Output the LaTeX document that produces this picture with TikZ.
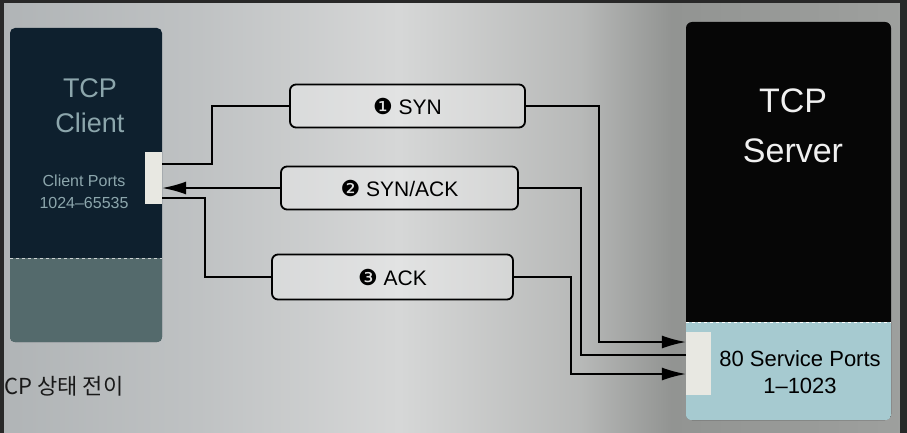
\documentclass[tikz,border=0pt]{standalone}
\usepackage{fontspec}
\setmainfont{Liberation Sans}
\newfontfamily\symfont{DejaVu Sans}
\newfontfamily\krfont{Noto Sans CJK KR}
\usetikzlibrary{arrows.meta, positioning, calc}
\definecolor{pgdark}{RGB}{40,40,40}
\definecolor{clnavy}{RGB}{14,32,46}
\definecolor{clgray}{RGB}{84,106,108}
\definecolor{cltext}{RGB}{140,166,172}
\definecolor{svblack}{RGB}{6,6,6}
\definecolor{svblue}{RGB}{166,202,208}
\definecolor{portwhite}{RGB}{232,232,226}
\definecolor{pgA}{RGB}{176,180,182}
\definecolor{pgB}{RGB}{214,215,215}
\definecolor{pgC}{RGB}{146,148,146}
\definecolor{pgD}{RGB}{158,160,158}
\pgfdeclarehorizontalshading{page}{100bp}{color(0bp)=(pgA); color(25bp)=(pgA); color(36bp)=(pgA!60!pgB); color(47bp)=(pgB); color(57bp)=(pgB!55!pgC); color(62bp)=(pgC); color(75bp)=(pgD); color(100bp)=(pgD)}

\begin{document}
\begin{tikzpicture}[x=1pt, y=-1pt,
    msg/.style={draw, line width=1.8pt, rounded corners=6pt, fill=white,
      fill opacity=0.3, text opacity=1, minimum height=43pt,
      font=\fontsize{21}{24}\selectfont},
    port/.style={fill=portwhite, inner sep=0pt},
    link/.style={line width=1.5pt},
    arrow/.style={link, -{Latex[length=24pt, width=13pt]}}
  ]
  % Page
  \shade[shading=page] (0,0) rectangle (907,433);
  \fill[pgdark] (0,0) rectangle (907,3);
  \fill[pgdark] (0,0) rectangle (4,433);
  \fill[pgdark] (900,0) rectangle (907,433);
  \useasboundingbox (0,0) rectangle (907,433);

  % Client
  \node[fill=clnavy, rounded corners=5pt, minimum width=152pt,
    minimum height=314pt, inner sep=0pt] (client) at (86,185) {};
  \begin{scope}
    \clip[rounded corners=5pt] (client.south west) rectangle (client.north east);
    \fill[clgray] (client.south west) rectangle (client.east |- 0,258);
  \end{scope}
  \draw[white!70!clgray, dashed, line width=0.8pt] (client.west |- 0,258) -- (client.east |- 0,258);
  \node[text=cltext, font=\fontsize{27}{35}\selectfont, align=center] (clientlabel) at (90,106) {TCP\\Client};
  \node[text=cltext, font=\fontsize{16}{22}\selectfont, align=center] (clientports) at (84,192) {Client Ports\\1024–65535};
  \node[port, minimum width=17pt, minimum height=52pt, anchor=east] (cport) at (client.east |- 0,178) {};

  % Server
  \node[fill=svblack, rounded corners=6pt, minimum width=205pt,
    minimum height=398pt, inner sep=0pt] (server) at (788.5,221) {};
  \begin{scope}
    \clip[rounded corners=6pt] (server.south west) rectangle (server.north east);
    \fill[svblue] (server.south west) rectangle (server.east |- 0,322);
  \end{scope}
  \draw[white, dashed, line width=0.8pt] (server.west |- 0,322) -- (server.east |- 0,322);
  \node[text=white!88!gray, font=\fontsize{34}{50}\selectfont, align=center] (serverlabel) at (793,126) {TCP\\Server};
  \node[font=\fontsize{22}{27}\selectfont, align=center] (serverports) at (800,372) {80 Service Ports\\1–1023};
  \node[port, minimum width=25pt, minimum height=63pt, anchor=west] (sport) at (server.west |- 0,363) {};

  % Messages
  \node[msg, minimum width=235pt] (syn) at (407.5,106) {{\symfont\fontsize{22}{24}\selectfont ❶} SYN};
  \node[msg, minimum width=237pt] (synack) at (399.5,188) {{\symfont\fontsize{22}{24}\selectfont ❷} SYN/ACK};
  \node[msg, minimum width=241pt, minimum height=45pt] (ack) at (392.5,277) {{\symfont\fontsize{22}{24}\selectfont ❸} ACK};

  % Connections
  \draw[link] ([yshift=14pt]cport.east) -- ++(50,0) |- (syn.west);
  \draw[arrow] (syn.east) -- ++(73,0) |- ([yshift=21pt]sport.west);
  \draw[link] ([yshift=8pt]sport.west) -| ($(synack.east)+(62,0)$) -- (synack.east);
  \draw[arrow] (synack.west) -- (synack.west -| cport.east);
  \draw[link] ([yshift=-20pt]cport.east) -- ++(43,0) |- (ack.west);
  \draw[arrow] (ack.east) -- ++(57,0) |- ([yshift=-11pt]sport.west);

  % Caption
  \node[font=\krfont\fontsize{22}{26}\selectfont, text=black!90, anchor=west] (caption) at (1,386) {CP 상태 전이};
\end{tikzpicture}
\end{document}
